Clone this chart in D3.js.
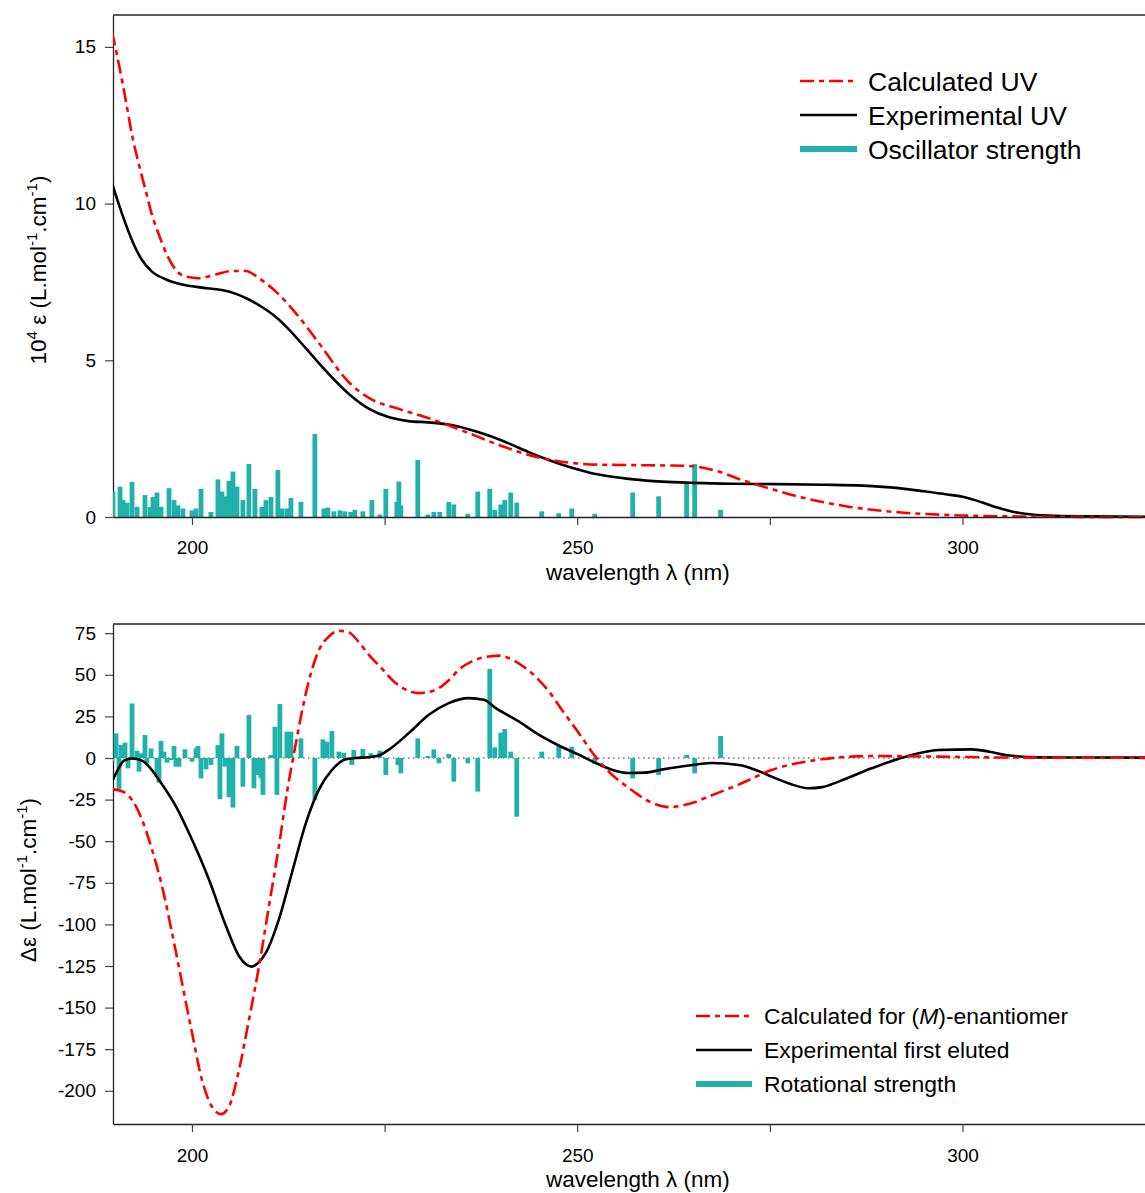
<!DOCTYPE html>
<html><head><meta charset="utf-8">
<script src="https://cdn.jsdelivr.net/npm/d3@7/dist/d3.min.js"></script>
<style>
body{margin:0;background:#fff}
text{font-family:"Liberation Sans",Arial,sans-serif;fill:#000}
</style>
</head><body>
<svg id="chart" width="1145" height="1193"></svg>
<script>
// ---------- DATA ----------
const xTicks = [200, 225, 250, 275, 300];
const xTickLabels = ["200", "", "250", "", "300"];
const uvTicks = [0, 5, 10, 15];
const cdTicks = [75, 50, 25, 0, -25, -50, -75, -100, -125, -150, -175, -200];

// UV (10^4 eps) [wavelength nm, value]
const uvCalc = [[189.62,15.49],[190.53,14.42],[191.44,13.25],[192.22,12.19],[193.13,11.23],[194.03,10.38],[194.81,9.64],[195.72,9.0],[196.76,8.36],[197.92,7.88],[199.22,7.67],[200.91,7.62],[203.11,7.74],[205.19,7.85],[207.0,7.85],[208.69,7.62],[210.89,7.19],[213.49,6.5],[216.47,5.55],[220.36,4.3],[222.96,3.8],[226.85,3.45],[230.74,3.15],[234.63,2.8],[239.82,2.3],[243.71,1.98],[247.6,1.78],[252.79,1.67],[259.27,1.65],[264.46,1.63],[268.35,1.45],[271.34,1.18],[274.84,0.92],[278.73,0.65],[285.21,0.33],[291.7,0.15],[300,0.05],[311,0.01],[323.7,0]];
const uvExp = [[189.62,10.65],[190.53,9.96],[191.44,9.32],[192.48,8.68],[193.51,8.2],[194.81,7.83],[196.63,7.58],[198.7,7.42],[201.3,7.32],[203.89,7.24],[205.71,7.12],[207.39,6.94],[209.08,6.7],[210.89,6.38],[212.6,5.98],[214.0,5.6],[215.5,5.18],[217.8,4.55],[220.4,3.92],[223.0,3.45],[225.6,3.18],[228.1,3.06],[230.7,3.02],[233.3,2.95],[235.9,2.8],[238.5,2.6],[241.1,2.35],[243.7,2.07],[246.3,1.82],[248.9,1.6],[251.5,1.42],[254.1,1.3],[257.3,1.2],[261.0,1.13],[265.0,1.09],[270,1.06],[276,1.05],[282,1.03],[287,1.0],[291.7,0.92],[295,0.82],[298,0.72],[300.3,0.63],[302.5,0.47],[304.5,0.3],[306.5,0.17],[309,0.08],[312,0.04],[318,0.02],[323.7,0.01]];
const oscWl = [189.75,190.66,191.05,191.57,192.22,192.87,193.90,194.55,194.94,195.46,195.98,197.02,197.67,198.18,198.83,200.0,200.52,201.17,202.46,203.37,203.89,204.41,204.80,205.32,205.84,206.61,207.39,208.17,209.08,209.60,210.25,211.15,211.67,212.32,212.84,214.14,215.95,217.12,217.64,218.42,219.20,219.84,220.62,221.14,222.18,223.35,224.38,225.16,226.59,226.85,227.11,229.31,230.61,231.39,232.17,233.33,233.98,235.80,237.09,238.65,239.30,240.08,240.60,241.37,242.15,245.40,247.60,249.29,252.27,257.20,260.57,264.20,265.24,268.61];
const oscVal = [0.81,0.97,0.54,0.45,1.12,0.32,0.70,0.32,0.64,0.78,0.32,0.92,0.54,0.37,0.27,0.21,0.27,0.90,0.16,1.20,0.81,0.66,1.15,1.45,0.97,0.54,1.69,0.90,0.32,0.54,0.64,1.50,0.27,0.27,0.61,0.48,2.65,0.27,0.30,0.18,0.21,0.18,0.16,0.23,0.18,0.54,0.08,0.90,0.48,1.13,0.37,1.82,0.08,0.16,0.16,0.48,0.40,0.10,0.81,0.90,0.23,0.40,0.54,0.78,0.46,0.18,0.12,0.27,0.10,0.78,0.66,1.13,1.69,0.23];

// ECD (delta eps) [wavelength nm, value]
const cdCalc = [[189.62,-18.8],[190.92,-20],[192.22,-25.2],[193.51,-37],[194.81,-55],[196.11,-77],[197.41,-105],[198.70,-135],[200,-165],[201.30,-193.5],[202.59,-209.5],[203.76,-214],[204.80,-209.5],[206.10,-187.5],[207.39,-157.5],[208.69,-125.4],[209.99,-89],[211.28,-53],[212.32,-21],[213.49,9],[214.5,33],[215.5,52],[216.6,66],[217.77,73],[219.07,76.5],[220.36,75.5],[221.6,70],[222.96,62],[224.6,54],[226.2,46],[227.8,41],[229.44,39],[231.0,40],[232.04,42],[233.4,47],[234.63,53],[236.5,58.5],[238.52,61],[240,61.5],[241.12,60],[243,55],[245.0,47],[246.5,39],[248.0,29],[250.2,15],[252.4,0.6],[254.5,-10],[256.7,-18],[259.3,-26],[261.9,-29.5],[264.6,-27.5],[267.4,-22.5],[270.95,-16],[275.23,-7.2],[281.71,-0.8],[288.2,1.2],[296.89,0.8],[305,0.3],[323.7,0.1]];
const cdExp = [[189.62,-14.2],[190.14,-9.2],[191.18,-1.6],[192.2,-0.3],[193.51,-1.6],[194.4,-5],[195.72,-13.2],[197.92,-29],[200,-49],[202.2,-73],[204.41,-101],[206.1,-119],[207.78,-125.4],[208.5,-123.5],[209.6,-117],[211.28,-97],[212.97,-69],[214.79,-39],[216.47,-19],[218.16,-7.2],[219.97,-0.8],[221.27,0],[222.9,0.5],[224.25,1.5],[225.55,5],[228.15,15],[230.74,26],[233.33,33],[235.93,36],[237.87,35],[239.43,30],[242.41,22],[245.0,14],[247.99,6.6],[250.19,2],[252.4,-3],[254.5,-7],[256.68,-9],[258.8,-8.8],[260.96,-7],[264.46,-4.5],[267.44,-3],[270.95,-4.2],[273.1,-7],[275.23,-11.2],[277.6,-15.5],[280.03,-18.2],[281.8,-17.5],[283.92,-14.2],[288.2,-6.2],[292.6,0.8],[296.89,4.8],[301.17,5.2],[303.5,3.8],[305.58,1.8],[309.86,0.4],[316,0.3],[323.7,0.2]];
const rotWl = [189.62,190.14,190.53,190.79,191.31,191.70,192.22,192.87,193.13,193.39,193.90,194.16,194.68,195.46,195.72,195.98,196.37,196.76,197.28,197.67,197.92,198.31,199.09,200.0,200.52,200.78,201.17,201.82,202.46,203.37,203.63,203.89,204.28,204.80,205.32,205.84,206.61,207.39,208.04,208.56,208.95,209.21,210.25,210.77,211.02,211.41,212.32,212.84,214.14,215.95,216.99,217.51,218.16,219.07,219.71,220.75,221.01,222.18,223.22,224.38,225.16,226.72,227.11,229.31,230.61,231.39,232.04,233.33,233.98,235.80,237.09,238.65,239.30,240.08,240.60,241.37,242.15,245.40,247.60,249.29,252.27,257.20,260.57,264.20,265.24,268.61];
const rotVal = [-2,14.8,-18.8,7.8,9.2,-6.2,32.8,4.4,-8.2,2.8,13.8,-3.2,5.8,-11.2,-14.8,10.2,3.8,-2.8,-1.2,7.2,-5.2,-5.2,5.2,-2.2,5.8,7.2,-12.2,-6.8,-4.2,7.8,-24.8,14.8,-5.2,-23.6,-29.8,7.2,-17.2,25.8,-18.2,-10.2,-12.2,-22.2,1.8,18.8,-22.2,32.4,15.8,15.8,11.8,-25.2,11.2,9.8,16.2,3.8,3.2,-4.2,4.8,5.4,2.8,4.4,-10.2,-4.2,-9.2,11.8,1.2,5.2,-3.2,2.4,-14.2,-3.2,-20.2,53.5,6.4,15.2,17.4,3.8,-35.3,3.8,7.2,6.8,-3.6,-12.2,-10.2,1.8,-9.2,13.2];

// ---------- STYLE ----------
const RED = "#ff0000", TEAL = "#20b2aa", DASH = "14,5,5,5";
const svg = d3.select("#chart");
const L = 113, R = 1145;
const x = d3.scaleLinear().domain([189.75, 323.69]).range([L, R]);

const yUV = d3.scaleLinear().domain([0, 16.018]).range([517, 15]);
const yCD = d3.scaleLinear().domain([-219.95, 80.53]).range([1124, 624]);

function clip(id, y0, y1) {
  svg.append("clipPath").attr("id", id).append("rect")
    .attr("x", L).attr("y", y0).attr("width", R - L).attr("height", y1 - y0);
}
clip("cUV", 15, 519);
clip("cCD", 624, 1124);

function panel(y, ticks, top, bottom, clipId, calc, exp, wl, val, xLabY, xTitleY) {
  const g = svg.append("g");
  g.append("line").attr("x1", L).attr("x2", R).attr("y1", top).attr("y2", top).attr("stroke", "#222").attr("stroke-width", 1.3);
  const xa = g.append("g").attr("transform", `translate(0,${bottom})`)
    .call(d3.axisBottom(x).tickValues(xTicks).tickFormat((d, i) => xTickLabels[i]).tickSize(8).tickSizeOuter(0).tickPadding(xLabY));
  const ya = g.append("g").attr("transform", `translate(${L},0)`)
    .call(d3.axisLeft(y).tickValues(ticks).tickFormat(d => String(d)).tickSize(8).tickSizeOuter(0).tickPadding(9));
  [xa, ya].forEach(a => {
    a.select(".domain").attr("stroke", "#222").attr("stroke-width", 1.3);
    a.selectAll(".tick line").attr("stroke", "#444").attr("stroke-width", 1.2);
    a.selectAll(".tick text").attr("font-size", 19).attr("font-family", "Liberation Sans, Arial, sans-serif").attr("fill", "#000");
  });
  g.append("text").attr("x", 546).attr("y", xTitleY).attr("font-size", 22.5).text("wavelength λ (nm)");

  const body = g.append("g").attr("clip-path", `url(#${clipId})`);
  if (clipId === "cCD") {
    body.append("line").attr("x1", L).attr("x2", R).attr("y1", y(0)).attr("y2", y(0))
      .attr("stroke", "#333").attr("stroke-width", 1.2).attr("stroke-dasharray", "1.5,3.5");
  }
  body.selectAll("rect.bar").data(wl.map((w, i) => [w, val[i]])).enter().append("rect")
    .attr("x", d => x(d[0]) - 2.4).attr("width", 4.8)
    .attr("y", d => Math.min(y(0), y(d[1])))
    .attr("height", d => Math.abs(y(d[1]) - y(0)))
    .attr("fill", TEAL);
  const line = d3.line().x(d => x(d[0])).y(d => y(d[1])).curve(d3.curveMonotoneX);
  body.append("path").datum(exp).attr("d", line).attr("fill", "none").attr("stroke", "#000").attr("stroke-width", 2.6);
  body.append("path").datum(calc).attr("d", line).attr("fill", "none").attr("stroke", RED).attr("stroke-width", 2.6).attr("stroke-dasharray", DASH);
  if (clipId === "cUV") {
    xa.raise();
  }
  return g;
}

panel(yUV, uvTicks, 15, 517, "cUV", uvCalc, uvExp, oscWl, oscVal, 16, 580);
panel(yCD, cdTicks, 624, 1124, "cCD", cdCalc, cdExp, rotWl, rotVal, 17, 1187);

// y titles
function supTitle(tx, ty, parts) {
  const t = svg.append("text").attr("transform", `translate(${tx},${ty}) rotate(-90)`).attr("text-anchor", "middle").attr("font-size", 22.5);
  parts.forEach(p => {
    if (p[1]) t.append("tspan").attr("font-size", 15).attr("dy", -9).text(p[0]);
    else t.append("tspan").attr("dy", p[2] ? 9 : 0).text(p[0]);
  });
}
supTitle(46, 270, [["10"], ["4", true], [" ε (L.mol", false, true], ["-1", true], [".cm", false, true], ["-1", true], [")", false, true]]);
supTitle(36, 880, [["Δε (L.mol"], ["-1", true], [".cm", false, true], ["-1", true], [")", false, true]]);

// legends
function legend(x0, x1, tx, ys, fs, labels) {
  const styles = [{c: RED, w: 2.6, d: DASH}, {c: "#000", w: 2.6, d: null}, {c: TEAL, w: 6, d: null}];
  labels.forEach((lab, i) => {
    svg.append("line").attr("x1", x0).attr("x2", x1).attr("y1", ys[i]).attr("y2", ys[i])
      .attr("stroke", styles[i].c).attr("stroke-width", styles[i].w).attr("stroke-dasharray", styles[i].d);
    const t = svg.append("text").attr("x", tx).attr("y", ys[i]).attr("dy", "0.36em").attr("font-size", fs);
    lab.forEach(p => t.append("tspan").attr("font-style", p[1] ? "italic" : null).text(p[0]));
  });
}
legend(800, 857, 868, [81, 115, 149], 26.5,
  [[["Calculated UV"]], [["Experimental UV"]], [["Oscillator strength"]]]);
legend(696, 752, 764, [1016, 1050, 1084], 22.9,
  [[["Calculated for ("], ["M", true], [")-enantiomer"]], [["Experimental first eluted"]], [["Rotational strength"]]]);
</script>
</body></html>
